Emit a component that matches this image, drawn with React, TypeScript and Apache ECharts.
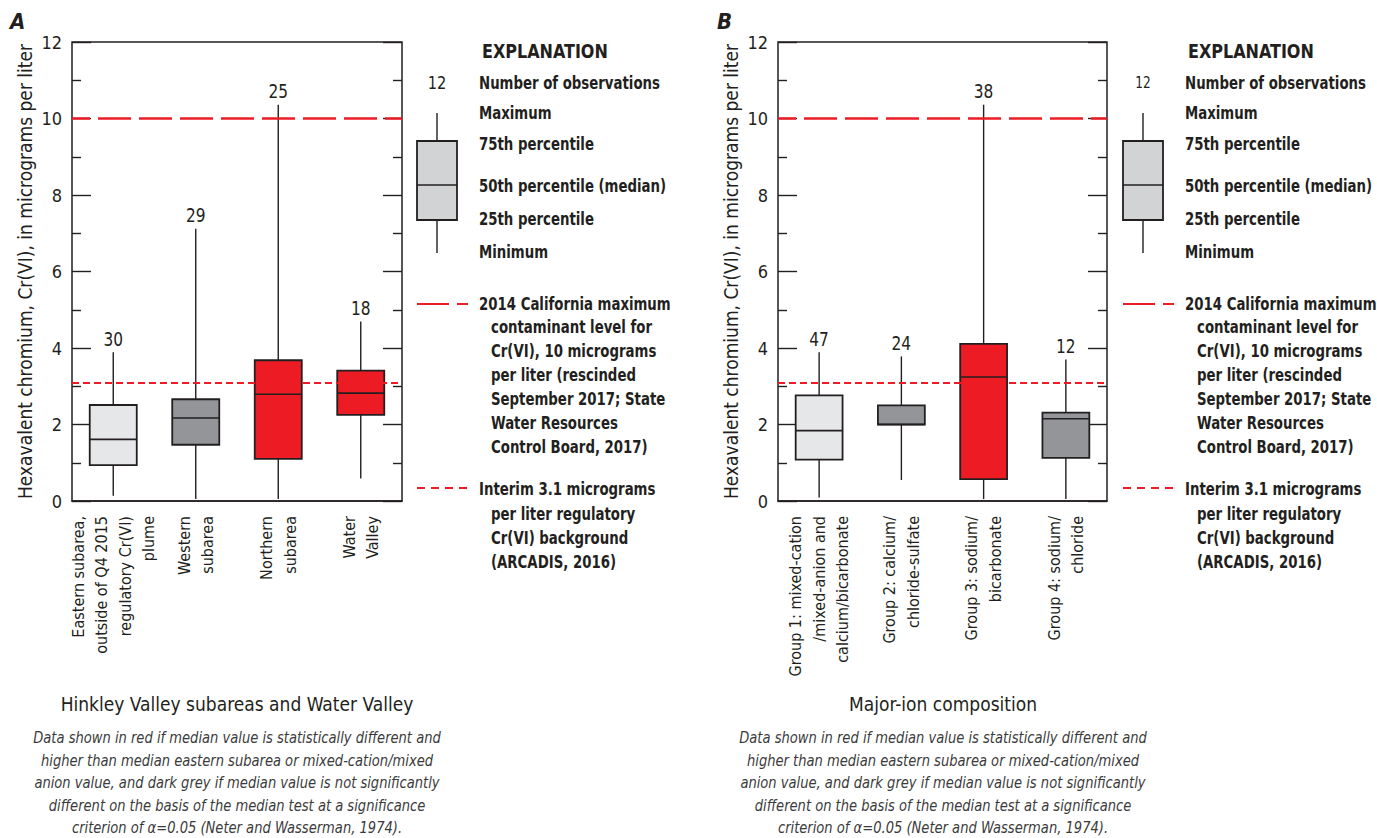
import React, { useEffect, useRef } from "react";
import * as echarts from "echarts";

const FONT = '"Liberation Sans Narrow", "DejaVu Sans Condensed", "Roboto Condensed", sans-serif';
const INK = "#231f20";

// ---------- Panel A data ----------
const categoriesA = [
  "Eastern subarea,\noutside of Q4 2015\nregulatory Cr(VI)\nplume",
  "Western\nsubarea",
  "Northern\nsubarea",
  "Water\nValley",
];
const minA = [0.14, 0.05, 0.05, 0.59];
const q1A = [0.94, 1.47, 1.1, 2.25];
const medianA = [1.61, 2.17, 2.79, 2.82];
const q3A = [2.51, 2.66, 3.68, 3.41];
const maxA = [3.89, 7.12, 10.36, 4.69];
const countA = [30, 29, 25, 18];
const groupA = ["reference", "notDifferent", "higher", "higher"];

// ---------- Panel B data ----------
const categoriesB = [
  "Group 1: mixed-cation\n/mixed-anion and\ncalcium/bicarbonate",
  "Group 2: calcium/\nchloride-sulfate",
  "Group 3: sodium/\nbicarbonate",
  "Group 4: sodium/\nchloride",
];
const minB = [0.09, 0.55, 0.05, 0.05];
const q1B = [1.08, 2.0, 0.57, 1.13];
const medianB = [1.84, 2.0, 3.24, 2.15];
const q3B = [2.76, 2.5, 4.11, 2.31];
const maxB = [3.89, 3.78, 10.36, 3.7];
const countB = [47, 24, 38, 12];
const groupB = ["reference", "notDifferent", "higher", "notDifferent"];

// ---------- Axis / reference values ----------
const yMin = 0;
const yMax = 12;
const yInterval = 2;
const mclValue = 10;
const interimValue = 3.1;

const xTitleA = "Hinkley Valley subareas and Water Valley";
const xTitleB = "Major-ion composition";
const yTitle = "Hexavalent chromium, Cr(VI), in micrograms per liter";
const captionLines = [
  "Data shown in red if median value is statistically different and",
  "higher than median eastern subarea or mixed-cation/mixed",
  "anion value, and dark grey if median value is not significantly",
  "different on the basis of the median test at a significance",
  "criterion of \u03b1=0.05 (Neter and Wasserman, 1974).",
];
const legendCount = 12;
const legendItems = [
  "Number of observations",
  "Maximum",
  "75th percentile",
  "50th percentile (median)",
  "25th percentile",
  "Minimum",
];
const mclLegend = [
  "2014 California maximum",
  "contaminant level for\nCr(VI), 10 micrograms\nper liter (rescinded\nSeptember 2017; State\nWater Resources\nControl Board, 2017)",
];
const interimLegend = [
  "Interim 3.1 micrograms",
  "per liter regulatory\nCr(VI) background\n(ARCADIS, 2016)",
];

const FILL: Record<string, string> = {
  reference: "#e6e7e8",
  notDifferent: "#939598",
  higher: "#ed1c24",
};
const RED = "#ed1c24";

function buildData(mins: number[], q1: number[], med: number[], q3: number[], maxs: number[], counts: number[]) {
  return mins.map((m, i) => [i, m, q1[i], med[i], q3[i], maxs[i], counts[i]]);
}

function makeRender(groups: string[]) {
  return (params: any, api: any) => {
    const i = api.value(0);
    const x = api.coord([i, 0])[0];
    const yLo = api.coord([i, api.value(1)])[1];
    const yQ1 = api.coord([i, api.value(2)])[1];
    const yMed = api.coord([i, api.value(3)])[1];
    const yQ3 = api.coord([i, api.value(4)])[1];
    const yHi = api.coord([i, api.value(5)])[1];
    const band = api.size([1, 0])[0];
    const w = band * 0.57;
    const fill = FILL[groups[params.dataIndex]];
    const ls = { stroke: INK, lineWidth: 1.4 };
    return {
      type: "group",
      children: [
        { type: "line", shape: { x1: x, y1: yHi, x2: x, y2: yQ3 }, style: ls },
        { type: "line", shape: { x1: x, y1: yQ1, x2: x, y2: yLo }, style: ls },
        {
          type: "rect",
          shape: { x: x - w / 2, y: yQ3, width: w, height: yQ1 - yQ3 },
          style: { fill, stroke: INK, lineWidth: 1.8 },
        },
        { type: "line", shape: { x1: x - w / 2, y1: yMed, x2: x + w / 2, y2: yMed }, style: { stroke: INK, lineWidth: 1.6 } },
        {
          type: "text",
          x,
          y: yHi - 4,
          scaleX: 0.9,
          style: {
            text: String(api.value(6)),
            textAlign: "center",
            textVerticalAlign: "bottom",
            fontSize: 19,
            fontFamily: FONT,
            fill: INK,
          },
        },
      ],
    };
  };
}

function yAxes(gridIndex: number) {
  const base = {
    type: "value",
    gridIndex,
    min: yMin,
    max: yMax,
    interval: yInterval,
    splitLine: { show: false },
    axisLine: { show: false },
    axisTick: { show: true, inside: true, length: 19, lineStyle: { color: INK, width: 1.4 } },
    minorTick: { show: true, splitNumber: 2, length: 9, lineStyle: { color: INK, width: 1.4 } },
    minorSplitLine: { show: false },
  };
  return [
    {
      ...base,
      position: "left",
      name: yTitle,
      nameLocation: "middle",
      nameRotate: 90,
      nameGap: 38,
      nameTextStyle: { fontSize: 19, fontFamily: FONT, color: INK },
      axisLabel: { show: true, fontSize: 18, fontFamily: FONT, color: INK, margin: 10 },
    },
    { ...base, position: "right", axisLabel: { show: false } },
  ];
}

function xAxis(gridIndex: number, data: string[]) {
  return {
    type: "category",
    gridIndex,
    data,
    axisLine: { show: true, lineStyle: { color: INK, width: 1.5 } },
    axisTick: { show: false },
    splitLine: { show: false },
    axisLabel: {
      interval: 0,
      rotate: 90,
      fontSize: 16,
      lineHeight: 23.5,
      margin: 15,
      fontFamily: FONT,
      color: INK,
    },
  };
}

function refLines(xi: number, yi: number) {
  return {
    type: "line",
    xAxisIndex: xi,
    yAxisIndex: yi,
    data: [],
    silent: true,
    markLine: {
      silent: true,
      symbol: ["none", "none"],
      label: { show: false },
      data: [
        { yAxis: mclValue, lineStyle: { color: RED, width: 2.5, type: [33, 8], dashOffset: 15 } },
        { yAxis: interimValue, lineStyle: { color: RED, width: 2, type: [7, 4] } },
      ],
    },
  };
}

function legendGraphics(bx: number, tx: number, countSize: number) {
  const SX = 0.87;
  const t = (text: string, x: number, y: number, extra: any = {}, sx = SX) => ({
    type: "text",
    x,
    y,
    scaleX: sx,
    style: {
      text,
      fontFamily: FONT,
      fontSize: 17,
      fontWeight: "bold",
      fill: INK,
      textVerticalAlign: "middle",
      ...extra,
    },
  });
  const cx = bx + 20;
  const ys = [83, 113, 144, 186, 219, 252];
  const els: any[] = [
    t("EXPLANATION", tx + 3, 51, { fontSize: 20 }, 0.89),
    t(String(legendCount), cx, 83, { fontWeight: "normal", fontSize: countSize, textAlign: "center" }, 0.9),
    { type: "line", shape: { x1: cx, y1: 113, x2: cx, y2: 253 }, style: { stroke: INK, lineWidth: 1.4 } },
    { type: "rect", shape: { x: bx, y: 141, width: 40, height: 79 }, style: { fill: "#d1d3d4", stroke: INK, lineWidth: 1.8 } },
    { type: "line", shape: { x1: bx, y1: 185, x2: bx + 40, y2: 185 }, style: { stroke: INK, lineWidth: 1.6 } },
    { type: "line", shape: { x1: bx, y1: 304, x2: bx + 32, y2: 304 }, style: { stroke: RED, lineWidth: 2 } },
    { type: "line", shape: { x1: bx + 40, y1: 304, x2: bx + 51, y2: 304 }, style: { stroke: RED, lineWidth: 2 } },
    { type: "line", shape: { x1: bx, y1: 488, x2: bx + 50, y2: 488 }, style: { stroke: RED, lineWidth: 2, lineDash: [8, 6] } },
    t(mclLegend[0], tx, 304),
    t(mclLegend[1], tx + 12, 315, { textVerticalAlign: "top", lineHeight: 24 }),
    t(interimLegend[0], tx, 489),
    t(interimLegend[1], tx + 12, 502, { textVerticalAlign: "top", lineHeight: 24 }),
  ];
  legendItems.forEach((s, i) => els.push(t(s, tx, ys[i])));
  return els;
}

function captionGraphics(cx: number, title: string, letter: string, lx: number) {
  return [
    {
      type: "text",
      x: lx,
      y: 21,
      style: { text: letter, fontFamily: FONT, fontSize: 22, fontWeight: "bold", fontStyle: "italic", fill: INK, textVerticalAlign: "middle" },
    },
    {
      type: "text",
      x: cx,
      y: 704,
      style: { text: title, fontFamily: FONT, fontSize: 19, fill: INK, textAlign: "center", textVerticalAlign: "middle" },
    },
    {
      type: "text",
      x: cx,
      y: 727,
      scaleX: 0.91,
      style: {
        text: captionLines.join("\n"),
        fontFamily: FONT,
        fontSize: 16,
        fontStyle: "italic",
        lineHeight: 22.5,
        fill: "#3b3b3b",
        textAlign: "center",
        textVerticalAlign: "top",
      },
    },
  ];
}

export default function App() {
  const ref = useRef<HTMLDivElement>(null);
  useEffect(() => {
    if (!ref.current) return;
    const chart = echarts.init(ref.current, undefined, { renderer: "svg" });
    const yA = yAxes(0);
    const yB = yAxes(1);
    chart.setOption({
      animation: false,
      backgroundColor: "#ffffff",
      textStyle: { fontFamily: FONT },
      grid: [
        { left: 72, top: 42, width: 330, height: 459, show: true, borderColor: INK, borderWidth: 1.5, backgroundColor: "transparent" },
        { left: 778, top: 42, width: 329, height: 459, show: true, borderColor: INK, borderWidth: 1.5, backgroundColor: "transparent" },
      ],
      xAxis: [xAxis(0, categoriesA), xAxis(1, categoriesB)],
      yAxis: [...yA, ...yB],
      series: [
        refLines(0, 0),
        refLines(1, 2),
        {
          type: "custom",
          xAxisIndex: 0,
          yAxisIndex: 0,
          renderItem: makeRender(groupA),
          encode: { x: 0, y: [1, 2, 3, 4, 5] },
          data: buildData(minA, q1A, medianA, q3A, maxA, countA),
          z: 3,
        },
        {
          type: "custom",
          xAxisIndex: 1,
          yAxisIndex: 2,
          renderItem: makeRender(groupB),
          encode: { x: 0, y: [1, 2, 3, 4, 5] },
          data: buildData(minB, q1B, medianB, q3B, maxB, countB),
          z: 3,
        },
      ],
      graphic: [
        ...legendGraphics(417, 479, 18),
        ...legendGraphics(1123, 1185, 15),
        ...captionGraphics(237, xTitleA, "A", 10),
        ...captionGraphics(943, xTitleB, "B", 717),
      ],
    });
    return () => chart.dispose();
  }, []);
  return (
    <div
      ref={ref}
      style={{ position: "fixed", left: 0, top: 0, width: 1377, height: 838, background: "#fff" }}
    />
  );
}
